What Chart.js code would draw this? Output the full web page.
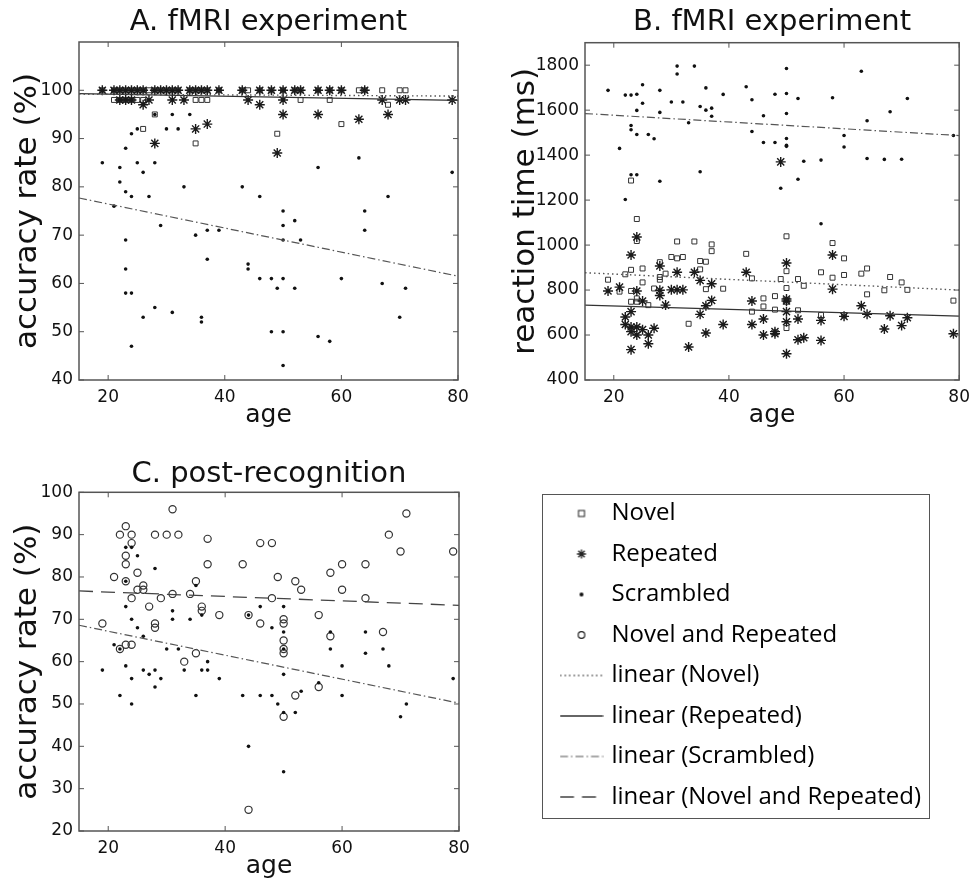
<!DOCTYPE html>
<html>
<head>
<meta charset="utf-8">
<script src="https://cdn.jsdelivr.net/npm/chart.js@4.4.1/dist/chart.umd.min.js"></script>
<style>
  html, body { margin: 0; padding: 0; background: #fff; }
  body { width: 977px; height: 891px; position: relative; overflow: hidden; }
  canvas { position: absolute; }
  #legendBox { position: absolute; left: 542px; top: 494px; width: 386px; height: 323px; border: 1.5px solid #555; }
</style>
</head>
<body>
<div id="legendBox"></div>
<canvas id="panelA" width="490" height="440" style="left:0px;top:0px;width:490px;height:440px"></canvas>
<canvas id="panelB" width="472" height="440" style="left:505px;top:0px;width:472px;height:440px"></canvas>
<canvas id="panelC" width="490" height="451" style="left:0px;top:440px;width:490px;height:451px"></canvas>
<canvas id="legendCanvas" width="430" height="345" style="left:547px;top:484.5px;width:430px;height:345px"></canvas>
<script>
const FONT = '"DejaVu Sans", sans-serif';
const LEGEND_FONT = '"Open Sans", sans-serif';

// shared x axis
const ageTicks = [20, 40, 60, 80];
const fitAges = [15, 80];

// A. fMRI accuracy (%)
const aNovelAge = [19,21,22,23,24,25,26,27,28,29,30,31,32,34,35,36,37,39,43,44,46,48,50,52,53,56,58,60,63,64,67,70,71,
                   21,22,23,24,25,26,35,36,37,53,58,68,28,60,26,49,35];
const aNovelAcc = [100,100,100,100,100,100,100,100,100,100,100,100,100,100,100,100,100,100,100,100,100,100,100,100,100,100,100,100,100,100,100,100,100,
                   98,98,98,98,98,98,98,98,98,98,98,97,95,93,92,91,89];
const aRepAge = [19,21,22,23,24,25,26,28,29,30,31,32,34,35,36,37,39,43,46,48,50,52,53,56,58,60,64,
                 22,23,24,27,31,33,44,50,67,70,71,79,
                 26,46,50,56,68,63,37,35,28,49];
const aRepAcc = [100,100,100,100,100,100,100,100,100,100,100,100,100,100,100,100,100,100,100,100,100,100,100,100,100,100,100,
                 98,98,98,98,98,98,98,98,98,98,98,98,
                 97,97,95,95,95,94,93,92,89,87];
const aScrAge = [19,21,22,23,24,25,26,28,29,30,31,32,34,35,36,37,39,43,46,48,50,52,56,58,60,64,
                 22,23,24,33,50,79,
                 28,31,34,25,30,32,24,23,63,19,25,28,22,56,26,79,22,33,43,23,24,27,46,68,21,50,64,52,29,50,
                 37,39,64,35,23,50,53,37,44,44,23,46,48,50,60,67,49,52,71,23,24,28,31,26,36,70,36,48,50,56,58,24,50];
const aScrAcc = [100,100,100,100,100,100,100,100,100,100,100,100,100,100,100,100,100,100,100,100,100,100,100,100,100,100,
                 98,98,98,98,98,98,
                 95,95,95,92,92,92,91,88,86,85,85,85,84,84,83,83,81,80,80,79,78,78,78,78,76,75,75,73,72,72,
                 71,71,71,70,69,69,69,65,64,63,63,61,61,61,61,60,59,59,59,58,58,55,54,53,53,53,52,50,50,49,48,47,43];
const aFitNovel = [99.2, 98.8];
const aFitRep = [99.3, 97.9];
const aFitScr = [77.7, 61.5];
const aTicks = [40, 50, 60, 70, 80, 90, 100];

// B. fMRI reaction time (ms)
const bScrAge = [19,21,22,23,24,25,25,24,23,23,24,26,27,28,28,30,31,31,32,33,34,35,36,36,37,37,39,35,28,23,24,22,
                 43,44,44,46,46,48,48,50,50,50,50,50,50,49,52,52,53,56,56,58,60,60,63,64,64,67,68,70,71,79];
const bScrRt = [1688,1430,1667,1667,1671,1713,1631,1599,1532,1513,1492,1492,1473,1688,1590,1636,1796,1761,1636,1544,1796,1616,1699,1600,1609,1573,1670,1326,1284,1313,1313,1203,
                1704,1646,1505,1575,1456,1671,1456,1785,1674,1585,1474,1444,1439,1253,1652,1293,1373,1378,1095,1655,1487,1436,1773,1553,1385,1381,1593,1382,1652,1487];
const bNovAge = [19,21,22,23,23,23,23,24,24,24,24,25,25,26,27,28,28,28,29,30,31,31,32,33,34,35,35,36,36,37,37,39,
                 43,44,44,46,46,48,48,49,50,50,50,50,50,52,52,53,56,56,58,58,60,60,60,63,64,64,67,68,70,71,79];
const bNovRt = [846,793,870,890,796,748,1287,1116,1018,763,748,896,834,733,807,924,858,846,873,947,941,1016,947,650,1016,929,892,926,804,1003,973,806,
                961,852,704,763,727,773,713,849,1039,884,809,748,631,849,710,819,879,689,1009,855,941,867,689,873,896,781,799,858,834,801,753];
const bRepAge = [19,21,22,22,23,23,23,23,23,24,24,24,24,25,25,26,26,27,28,28,28,29,30,31,31,32,33,34,35,35,36,36,37,37,39,
                 43,44,44,46,46,48,48,49,50,50,50,50,50,50,52,52,53,56,56,58,58,60,63,64,67,68,70,71,79];
const bRepRt = [796,813,680,647,956,704,636,615,535,1036,796,636,600,751,624,600,561,630,907,799,776,733,801,879,801,801,547,879,843,692,730,609,828,754,647,
                879,751,647,671,600,606,615,1370,920,760,751,704,659,517,671,579,588,665,576,956,804,683,730,692,627,686,642,677,606];
const bFitNovel = [877, 800];
const bFitRep = [733, 684];
const bFitScr = [1585, 1487];
const bTicks = [400, 600, 800, 1000, 1200, 1400, 1600, 1800];

// C. post-recognition accuracy (%)
const cNRAge = [23,22,24,24,23,23,21,25,23,26,25,26,24,27,28,30,32,31,37,37,29,31,34,35,36,36,39,43,44,46,48,49,48,52,53,
                50,50,46,28,56,58,60,60,64,64,68,71,70,79,19,22,23,24,28,33,35,50,50,50,56,58,67,52,50,44];
const cNRAcc = [92,90,90,88,85,83,80,81,79,78,77,77,75,73,90,90,90,96,89,83,75,76,76,79,73,72,71,83,71,88,88,80,75,79,77,
                70,69,69,69,71,81,83,77,83,75,90,95,86,86,69,63,64,64,68,60,62,65,63,62,54,66,67,52,47,25];
const cScrAge = [23,24,25,28,23,24,31,31,34,35,36,46,50,48,23,44,25,19,21,22,23,24,24,26,26,27,28,28,29,30,
                 32,33,35,36,37,37,39,43,44,46,48,49,50,50,50,50,50,52,53,56,58,58,60,60,64,64,67,68,70,71,79,22];
const cScrAcc = [87,87,85,82,73,70,72,70,70,78,71,73,73,68,79,71,68,58,64,52,59,56,50,66,58,57,58,54,56,63,
                 63,58,52,58,58,60,56,52,40,52,52,50,67,57,48,34,63,48,53,55,67,63,59,52,67,62,63,59,47,50,56,63];
const cFitNR = [76.7, 73.3];
const cFitScr = [68.6, 50.2];
const cTicks = [20, 30, 40, 50, 60, 70, 80, 90, 100];

const legendNames = ['Novel', 'Repeated', 'Scrambled', 'Novel and Repeated',
  'linear (Novel)', 'linear (Repeated)', 'linear (Scrambled)', 'linear (Novel and Repeated)'];

const pts = (xs, ys) => xs.map((x, i) => ({ x: x, y: ys[i] }));

// marker / line styles
const novelStyle = { pointStyle: 'rect', pointRadius: 3.5, borderColor: '#333', backgroundColor: 'rgba(255,255,255,0)', borderWidth: 1 };
const repStyle = { pointStyle: 'star', pointRadius: 5, borderColor: '#1a1a1a', backgroundColor: '#1a1a1a', borderWidth: 1.4 };
const scrStyle = { pointStyle: 'circle', pointRadius: 1.8, borderWidth: 0, backgroundColor: '#111', borderColor: '#111' };
const nrStyle = { pointStyle: 'circle', pointRadius: 3.6, borderColor: '#333', backgroundColor: 'rgba(255,255,255,0)', borderWidth: 1.2 };
const dotted = { borderColor: '#555', borderWidth: 1.4, borderDash: [1.5, 3] };
const solid = { borderColor: '#333', borderWidth: 1.3, borderDash: [] };
const dashDot = { borderColor: '#555', borderWidth: 1.2, borderDash: [8, 3, 1.5, 3] };
const dashed = { borderColor: '#444', borderWidth: 1.3, borderDash: [14, 8] };

function fitLine(label, ys, style) {
  return Object.assign({ label: label, data: pts(fitAges, ys), showLine: true, pointRadius: 0, fill: false }, style);
}
function scatterSet(label, xs, ys, style) {
  return Object.assign({ label: label, data: pts(xs, ys) }, style);
}

// box around the plot with inward ticks
const frame = {
  id: 'frame',
  afterDatasetsDraw(chart) {
    const { ctx, chartArea: a, scales: { x, y } } = chart;
    ctx.save();
    ctx.strokeStyle = '#555';
    ctx.lineWidth = 1.5;
    ctx.strokeRect(a.left, a.top, a.right - a.left, a.bottom - a.top);
    ctx.lineWidth = 1;
    ctx.beginPath();
    x.ticks.forEach(t => {
      const px = x.getPixelForValue(t.value);
      ctx.moveTo(px, a.bottom); ctx.lineTo(px, a.bottom - 5);
      ctx.moveTo(px, a.top); ctx.lineTo(px, a.top + 5);
    });
    y.ticks.forEach(t => {
      const py = y.getPixelForValue(t.value);
      ctx.moveTo(a.left, py); ctx.lineTo(a.left + 5, py);
      ctx.moveTo(a.right, py); ctx.lineTo(a.right - 5, py);
    });
    ctx.stroke();
    ctx.restore();
  }
};

function panel(id, o) {
  return new Chart(document.getElementById(id), {
    type: 'scatter',
    data: { datasets: o.datasets },
    options: {
      responsive: false,
      animation: false,
      layout: { padding: { left: 0, right: o.padRight, top: 0, bottom: 0 } },
      plugins: {
        legend: { display: false },
        tooltip: { enabled: false },
        title: {
          display: true, text: o.title, fullSize: false, color: '#111',
          font: { family: FONT, size: 29, weight: 'normal' },
          padding: o.titlePad
        }
      },
      scales: {
        x: {
          type: 'linear', min: 15, max: 80,
          afterBuildTicks: s => { s.ticks = ageTicks.map(v => ({ value: v })); },
          afterFit: s => { s.height = 60; },
          grid: { display: false, drawTicks: false },
          border: { display: false },
          ticks: { padding: 7, color: '#111', font: { family: FONT, size: 17 }, callback: v => String(v) },
          title: { display: true, text: 'age', color: '#111', font: { family: FONT, size: 25 }, padding: { top: 0, bottom: 10 } }
        },
        y: {
          type: 'linear', min: o.yMin, max: o.yMax,
          afterBuildTicks: s => { s.ticks = o.yTicks.map(v => ({ value: v })); },
          afterFit: s => { s.width = o.yWidth; },
          grid: { display: false, drawTicks: false },
          border: { display: false },
          ticks: { padding: 6, color: '#111', font: { family: FONT, size: 17 }, callback: v => String(v) },
          title: { display: true, text: o.yLabel, color: '#111', font: { family: FONT, size: 31 }, padding: { top: o.yTitlePad, bottom: 0 } }
        }
      }
    },
    plugins: [frame]
  });
}

panel('panelA', {
  title: 'A. fMRI experiment', yLabel: 'accuracy rate (%)',
  yMin: 40, yMax: 110, yTicks: aTicks, yWidth: 79, yTitlePad: 9.4, padRight: 32,
  titlePad: { top: 5, bottom: 2.2 },
  datasets: [
    fitLine('linear (Novel)', aFitNovel, dotted),
    fitLine('linear (Repeated)', aFitRep, solid),
    fitLine('linear (Scrambled)', aFitScr, dashDot),
    scatterSet('Repeated', aRepAge, aRepAcc, repStyle),
    scatterSet('Scrambled', aScrAge, aScrAcc, scrStyle),
    scatterSet('Novel', aNovelAge, aNovelAcc, novelStyle)
  ]
});

panel('panelB', {
  title: 'B. fMRI experiment', yLabel: 'reaction time (ms)',
  yMin: 400, yMax: 1900, yTicks: bTicks, yWidth: 80, yTitlePad: 2, padRight: 13,
  titlePad: { top: 5, bottom: 2.9 },
  datasets: [
    fitLine('linear (Novel)', bFitNovel, dotted),
    fitLine('linear (Repeated)', bFitRep, solid),
    fitLine('linear (Scrambled)', bFitScr, dashDot),
    scatterSet('Repeated', bRepAge, bRepRt, repStyle),
    scatterSet('Scrambled', bScrAge, bScrRt, scrStyle),
    scatterSet('Novel', bNovAge, bNovRt, novelStyle)
  ]
});

panel('panelC', {
  title: 'C. post-recognition', yLabel: 'accuracy rate (%)',
  yMin: 20, yMax: 100, yTicks: cTicks, yWidth: 79, yTitlePad: 9.4, padRight: 31,
  titlePad: { top: 16.6, bottom: 0.9 },
  datasets: [
    fitLine('linear (Novel and Repeated)', cFitNR, dashed),
    fitLine('linear (Scrambled)', cFitScr, dashDot),
    scatterSet('Scrambled', cScrAge, cScrAcc, scrStyle),
    scatterSet('Novel and Repeated', cNRAge, cNRAcc, nrStyle)
  ]
});

// legend icons (small canvases used as point styles)
function icon(draw) {
  const c = document.createElement('canvas');
  c.width = 44; c.height = 16;
  const g = c.getContext('2d');
  g.strokeStyle = '#222'; g.fillStyle = '#111';
  draw(g);
  return c;
}
function lineIcon(style) {
  return icon(g => {
    g.strokeStyle = style.borderColor; g.lineWidth = style.borderWidth;
    g.setLineDash(style.borderDash);
    g.beginPath(); g.moveTo(0.5, 8); g.lineTo(43.5, 8); g.stroke();
  });
}
const legendIcons = [
  icon(g => { g.lineWidth = 1; g.strokeRect(19, 5, 6, 6); }),
  icon(g => {
    g.lineWidth = 1.3; g.beginPath();
    [0, 45, 90, 135].forEach(d => {
      const r = d * Math.PI / 180;
      g.moveTo(22 - 4.5 * Math.cos(r), 8 - 4.5 * Math.sin(r));
      g.lineTo(22 + 4.5 * Math.cos(r), 8 + 4.5 * Math.sin(r));
    });
    g.stroke();
  }),
  icon(g => { g.beginPath(); g.arc(22, 8, 2, 0, Math.PI * 2); g.fill(); }),
  icon(g => { g.lineWidth = 1.2; g.beginPath(); g.arc(22, 8, 3.3, 0, Math.PI * 2); g.stroke(); }),
  lineIcon(dotted),
  lineIcon(solid),
  lineIcon(dashDot),
  lineIcon(dashed)
];

new Chart(document.getElementById('legendCanvas'), {
  type: 'scatter',
  data: { datasets: [] },
  options: {
    responsive: false,
    animation: false,
    scales: { x: { display: false }, y: { display: false } },
    plugins: {
      tooltip: { enabled: false },
      legend: {
        display: true, position: 'left', align: 'start', maxWidth: 1000,
        labels: {
          usePointStyle: true, pointStyleWidth: 36, padding: 16.5, color: '#111',
          font: { family: LEGEND_FONT, size: 24 },
          generateLabels: () => legendNames.map((t, i) => ({
            text: t, pointStyle: legendIcons[i], fillStyle: '#111', strokeStyle: '#111',
            lineWidth: 0, hidden: false, datasetIndex: i
          }))
        }
      }
    }
  }
});
</script>
</body>
</html>
